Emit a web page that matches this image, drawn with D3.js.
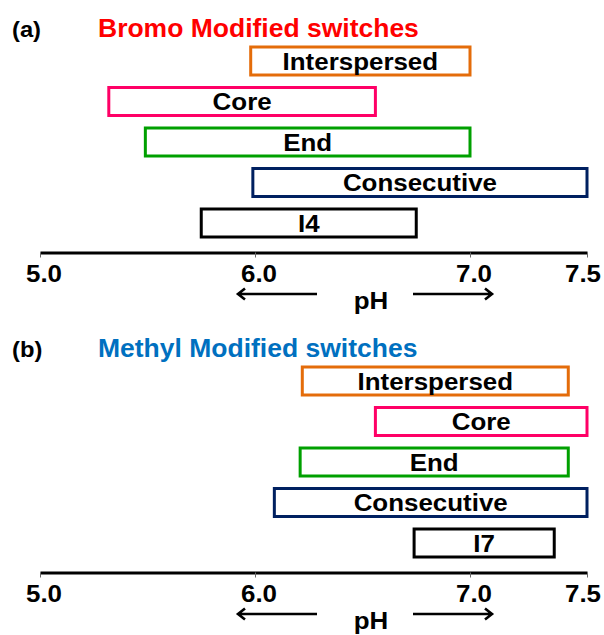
<!DOCTYPE html>
<html>
<head>
<meta charset="utf-8">
<script src="https://cdn.jsdelivr.net/npm/d3@7"></script>
<style>
  body { margin: 0; background: #fff; }
  svg text { font-family: Arial, "Liberation Sans", sans-serif; font-weight: bold; }
</style>
</head>
<body>
<div class="chart"></div>
<script>
// switch names, one row per box (top to bottom)
const bromoNames = ["Interspersed", "Core", "End", "Consecutive", "I4"];
const methylNames = ["Interspersed", "Core", "End", "Consecutive", "I7"];

// pH range of each switch
const bromoStart = [5.98, 5.32, 5.49, 5.99, 5.75];
const bromoEnd   = [7.0, 6.56, 7.0, 7.5, 6.75];
const methylStart = [6.22, 6.56, 6.21, 6.09, 6.74];
const methylEnd   = [7.42, 7.5, 7.42, 7.5, 7.36];

const tickVals = [5.0, 6.0, 7.0, 7.5];
const tickLabels = ["5.0", "6.0", "7.0", "7.5"];

const boxColors = ["#E46C0A", "#FF0066", "#00A000", "#002060", "#000000"];

const panels = [
  {tag: "(a)", title: "Bromo Modified switches", color: "#FF0000", names: bromoNames, start: bromoStart, end: bromoEnd, top: 0},
  {tag: "(b)", title: "Methyl Modified switches", color: "#0070C0", names: methylNames, start: methylStart, end: methylEnd, top: 320}
];

const width = 604, height = 635;

const svg = d3.select(".chart").append("svg")
  .attr("width", width)
  .attr("height", height);

// the axis in the picture is a little wider between 7.0 and 7.5
const x = d3.scaleLinear()
  .domain([5, 6, 7, 7.5])
  .range([40, 255, 470, 587]);

// the original lettering is a bit wide, so text gets a horizontal stretch
function wideText(g, tx, ty, str, size, anchor, fill, sx){
  return g.append("text")
    .attr("transform", `translate(${tx},${ty}) scale(${sx || 1.08},1)`)
    .attr("text-anchor", anchor)
    .style("font-size", size + "px")
    .attr("fill", fill)
    .text(str);
}

panels.forEach(p => {
  const g = svg.append("g").attr("transform", `translate(0,${p.top})`);

  wideText(g, 12, 37, p.tag, 22, "start", "#000");
  wideText(g, 98, 37, p.title, 25, "start", p.color, 1.06);

  const y = d3.scalePoint()
    .domain(d3.range(p.names.length))
    .range([61, 223]);

  const rows = p.names.map((n, i) => ({name: n, s: p.start[i], e: p.end[i], i: i}));

  g.selectAll("rect.box")
    .data(rows)
    .enter()
    .append("rect")
    .attr("class", "box")
    .attr("x", d => x(d.s))
    .attr("y", d => y(d.i) - 14)
    .attr("width", d => x(d.e) - x(d.s))
    .attr("height", 28)
    .attr("fill", "#fff")
    .attr("stroke", d => boxColors[d.i])
    .attr("stroke-width", 3);

  rows.forEach(d => {
    wideText(g, (x(d.s) + x(d.e)) / 2, y(d.i) + 8.5, d.name, 24, "middle", "#000");
  });

  // pH axis
  const axis = d3.axisBottom(x)
    .tickValues(tickVals)
    .tickSizeInner(5)
    .tickSizeOuter(0)
    .tickFormat("");

  const ax = g.append("g")
    .attr("transform", "translate(0,252.5)")
    .call(axis);
  ax.select(".domain").attr("stroke", "#000").attr("stroke-width", 3);
  ax.selectAll(".tick line").attr("stroke", "#666").attr("stroke-width", 1);

  tickVals.forEach((v, i) => {
    const off = i === tickVals.length - 1 ? -4 : 4;
    wideText(g, x(v) + off, 282, tickLabels[i], 24, "middle", "#000");
  });

  // arrows either side of pH
  const ay = 294;
  const arrows = g.append("g")
    .attr("fill", "none")
    .attr("stroke", "#000")
    .attr("stroke-width", 2.6)
    .attr("stroke-linejoin", "miter");
  arrows.append("path").attr("d", `M317,${ay}H239 M245,${ay - 5.5}L238,${ay}L245,${ay + 5.5}`);
  arrows.append("path").attr("d", `M413,${ay}H491 M485,${ay - 5.5}L492,${ay}L485,${ay + 5.5}`);

  wideText(g, 371, 309, "pH", 24, "middle", "#000");
});
</script>
</body>
</html>
